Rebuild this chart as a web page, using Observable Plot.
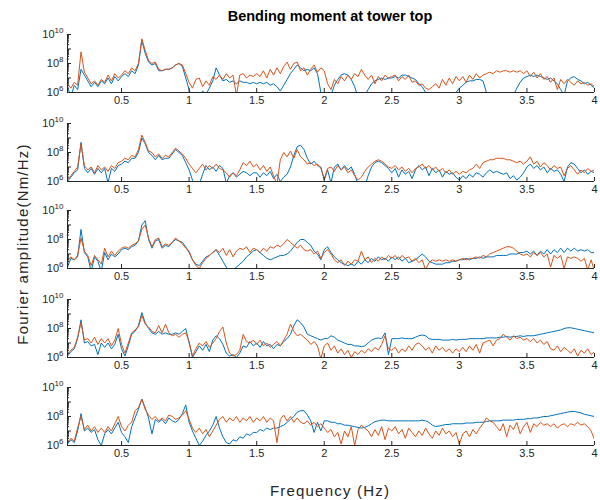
<!DOCTYPE html>
<html><head><meta charset="utf-8">
<script src="https://cdn.jsdelivr.net/npm/d3@7"></script>
<script src="https://cdn.jsdelivr.net/npm/@observablehq/plot@0.6"></script>
<style>
body{margin:0;background:#fff;}
#chart{position:relative;width:600px;height:500px;font-family:"Liberation Sans",Arial,Helvetica,sans-serif;color:#262626;overflow:hidden;background:#fff}
#title{position:absolute;top:8px;left:0;width:660px;text-align:center;font-weight:bold;font-size:14.5px;color:#000}
#ylab{position:absolute;left:22px;top:244px;transform:translate(-50%,-50%) rotate(-90deg);white-space:nowrap;font-size:15px;letter-spacing:1.2px;color:#262626}
#xlab{position:absolute;left:330px;top:490px;transform:translate(-50%,-50%);white-space:nowrap;font-size:15px;letter-spacing:1.2px;color:#262626}
.panel{position:absolute;left:0}
</style></head>
<body>
<div id="chart">
  <div id="title">Bending moment at tower top</div>
  <div id="ylab">Fourier amplitude(Nm/Hz)</div>
  <div id="xlab">Frequency (Hz)</div>
</div>
<script>
// Frequency grid (Hz)
const freqs = d3.range(157).map(i => Math.round((0.1 + 0.025 * i) * 1000) / 1000);
const xTicks = [0.5, 1, 1.5, 2, 2.5, 3, 3.5, 4];
const xTickLabels = ["0.5", "1", "1.5", "2", "2.5", "3", "3.5", "4"];
const yTicks = [1e6, 1e8, 1e10];
const yTickExponents = ["6", "8", "10"];
const xDomain = [0.1, 4];
const yDomain = [1e6, 1e10];

// log10 of Fourier amplitude (blue = series 1, orange = series 2)
const p1Blue = [6.4,5.7,6.5,6.2,7.6,7.2,6.8,6.4,6.7,6.4,6.8,6.6,7.0,6.6,7.1,6.8,
7.1,7.3,7.1,7.5,7.3,7.9,9.6,8.7,8.1,7.9,8.0,7.5,7.5,7.6,7.6,7.7,7.9,8.0,7.8,7.0,
6.2,5.6,5.5,5.8,6.1,5.9,6.3,6.8,7.7,7.2,6.8,6.9,6.7,6.8,6.6,6.8,6.7,6.7,6.6,6.7,
6.6,6.7,6.6,6.7,6.5,6.6,6.4,6.1,6.5,6.9,7.3,7.6,7.9,7.7,7.5,7.6,7.5,7.7,7.3,6.0,
5.5,5.4,5.8,6.5,6.9,7.2,7.3,7.2,6.9,6.4,5.7,5.5,5.8,6.2,6.6,6.8,6.9,7.0,6.9,7.0,
7.0,7.1,7.0,7.2,7.2,7.1,7.0,6.9,6.6,6.4,6.0,5.6,5.4,5.4,5.5,5.5,5.6,5.7,5.8,6.0,
6.3,6.5,6.7,6.8,6.8,6.9,6.9,6.8,6.0,5.4,5.3,5.3,5.3,5.4,5.4,5.6,5.8,6.3,6.7,7.0,
7.1,7.2,7.1,7.2,7.1,7.0,6.9,7.0,6.8,6.6,6.2,5.8,6.8,7.0,7.1,6.9,6.8,6.6,6.7,6.5,6.3];
const p1Orange = [6.6,6.3,6.7,6.5,8.8,7.4,7.0,6.6,6.8,6.5,6.9,6.7,7.2,6.8,7.3,7.0,
7.2,7.5,7.3,7.7,7.5,8.0,9.7,8.9,8.2,8.0,8.1,7.6,7.5,7.6,7.6,7.7,7.9,8.0,7.9,7.3,
6.7,6.3,6.9,7.0,6.4,6.8,6.5,7.1,6.9,7.2,6.9,7.3,7.0,7.2,5.8,7.2,7.3,7.0,7.2,7.1,
7.3,7.1,7.5,7.0,7.6,7.2,7.7,7.3,7.8,8.1,7.6,8.0,8.1,7.5,7.7,7.2,7.6,7.9,7.4,7.7,
7.5,6.6,6.2,6.9,6.6,7.1,6.8,7.2,6.9,7.3,7.1,7.6,7.2,6.9,7.2,6.6,7.1,6.8,7.2,7.0,
7.1,7.2,6.8,7.1,6.9,7.2,6.7,6.8,6.5,6.6,6.3,6.2,6.4,6.6,6.3,6.9,6.5,7.0,6.6,7.1,
6.8,7.1,6.7,7.2,6.9,7.3,7.0,7.2,7.3,7.4,7.3,7.5,7.4,7.5,7.5,7.4,7.5,7.4,7.5,7.3,
7.5,7.1,7.4,7.0,7.3,6.9,7.1,6.7,7.0,6.2,6.9,6.6,6.9,6.7,6.5,6.8,6.6,6.7,6.5,6.6,6.4];

const p2Blue = [6.0,6.3,6.6,6.8,8.7,6.9,6.6,6.9,6.5,6.9,6.6,6.9,5.9,6.9,6.7,7.1,
7.2,7.4,7.3,7.6,7.6,8.0,9.0,8.6,8.0,7.8,7.5,7.8,7.5,7.6,7.6,7.9,8.2,8.0,7.8,7.3,
6.8,6.1,5.6,5.8,6.5,7.1,6.8,7.0,6.7,7.1,6.9,5.9,6.4,6.6,6.3,6.5,6.7,6.6,6.4,6.6,
6.6,6.3,6.6,6.4,6.7,6.2,6.5,6.0,6.3,6.5,7.0,7.8,8.4,8.5,8.2,7.6,7.2,7.4,7.1,7.0,
6.1,6.8,5.9,7.0,7.2,6.8,7.1,6.8,7.0,6.5,5.8,5.5,5.7,6.4,7.0,7.3,7.4,7.3,7.1,6.9,
6.6,6.9,6.3,6.8,6.5,6.7,6.2,6.8,7.1,6.8,7.0,6.4,6.9,6.6,6.8,6.3,6.7,6.5,6.6,6.3,
6.1,6.4,6.2,6.5,6.3,6.6,6.5,6.3,6.6,6.8,6.6,6.7,6.6,6.5,6.6,6.2,6.4,6.1,6.3,6.6,
7.0,7.2,6.9,7.1,6.8,7.0,6.6,6.9,6.7,6.8,6.5,6.0,7.0,7.3,7.2,6.9,6.6,6.8,6.5,6.7,6.6];
const p2Orange = [6.1,6.4,6.7,7.0,8.6,7.1,6.8,7.0,6.6,7.1,6.8,7.0,6.7,7.1,6.9,7.3,
7.4,7.6,7.5,7.8,7.7,8.2,9.2,8.7,8.1,8.0,7.7,7.9,7.6,7.8,7.7,8.0,8.3,8.1,7.9,7.6,
7.2,6.9,6.6,6.9,7.2,6.8,7.1,6.9,7.2,6.9,6.8,6.6,6.3,6.6,6.4,6.8,7.3,7.1,7.4,7.0,
7.2,6.8,7.1,6.7,7.0,6.4,5.8,7.5,8.0,7.7,8.1,7.6,8.2,7.7,7.5,7.2,7.3,7.1,7.2,6.9,
6.2,6.9,7.0,6.7,7.1,6.8,7.0,6.6,6.8,6.4,6.1,6.3,6.7,7.0,7.2,7.4,7.5,7.4,7.2,7.0,
6.9,7.1,6.8,7.0,6.7,6.9,6.6,6.9,7.0,7.2,6.9,7.1,6.8,7.0,6.7,6.9,6.6,6.8,6.5,6.7,
6.5,6.7,6.6,6.8,6.9,7.2,6.9,7.3,7.4,7.5,7.5,7.6,7.6,7.6,7.5,7.5,7.4,7.3,7.4,7.2,
7.4,7.7,7.2,7.4,7.0,7.3,7.1,6.8,7.1,6.9,7.0,6.4,6.9,7.1,6.8,6.5,6.8,6.6,6.9,6.7,6.8];

const p3Blue = [6.1,6.7,6.6,6.8,8.7,7.1,6.8,5.8,6.8,6.5,5.8,7.1,6.6,7.0,6.8,7.0,
7.3,7.4,7.3,7.5,7.6,7.9,9.0,9.3,8.0,7.4,7.9,8.0,7.4,7.6,7.5,7.8,8.0,7.9,7.8,7.5,
7.1,6.6,6.3,6.2,6.5,6.8,6.9,7.1,7.3,6.9,6.5,6.1,5.8,5.9,6.1,6.3,6.5,6.8,7.0,7.2,
7.3,7.1,6.9,6.7,6.6,6.7,6.8,6.9,6.9,7.0,7.2,7.5,7.8,8.0,8.0,7.8,7.6,7.2,7.0,6.6,
7.3,7.5,7.1,6.8,6.6,6.4,6.3,6.2,6.3,6.2,6.5,6.3,6.6,6.4,6.7,6.5,6.8,6.6,6.7,6.5,
6.8,6.6,6.8,6.5,6.7,6.4,6.5,6.6,6.8,7.0,6.8,6.5,6.4,6.3,6.3,6.3,6.4,6.4,6.5,6.5,
6.6,6.6,6.7,6.6,6.7,6.7,6.8,6.7,6.8,6.8,6.8,6.9,6.9,6.9,6.9,7.0,7.0,7.0,7.1,7.1,
7.2,7.0,7.2,6.9,7.2,7.0,7.3,7.0,7.3,7.1,7.4,7.1,7.4,7.2,7.4,7.2,7.3,7.2,7.3,7.1,7.1];
const p3Orange = [6.5,6.8,6.6,6.9,8.1,7.2,6.9,6.2,6.9,6.6,6.3,7.4,6.8,7.2,6.9,7.2,
7.4,7.5,7.4,7.6,7.7,7.9,8.7,9.0,8.1,7.5,8.0,8.1,7.5,7.7,7.6,7.8,8.1,7.9,7.7,7.4,
7.2,6.6,6.2,6.0,6.4,6.7,6.9,7.1,7.3,7.1,7.4,6.9,7.3,6.8,7.2,7.4,7.3,7.5,7.1,7.4,
7.3,7.1,7.4,7.2,7.5,7.4,7.6,7.5,7.7,8.0,7.8,7.6,7.4,7.6,7.3,7.2,7.3,7.0,7.2,6.7,
7.1,7.3,7.0,6.6,6.4,6.6,6.2,6.5,6.3,6.6,6.5,7.2,6.6,6.8,6.4,6.7,6.5,6.8,6.6,6.9,
6.7,6.9,6.6,6.9,6.7,6.8,6.5,6.7,6.4,6.6,5.9,6.4,6.6,6.5,6.6,6.5,6.6,6.5,6.6,6.5,
6.6,6.7,6.6,6.7,6.7,6.8,6.7,6.9,6.8,7.0,7.1,7.2,7.3,7.4,7.5,7.5,7.4,7.2,7.0,6.9,
7.0,6.8,7.1,6.9,7.1,6.8,7.0,6.1,6.9,6.7,6.9,6.0,6.8,6.7,6.8,6.7,6.5,6.7,5.9,6.6,5.8];

const p4Blue = [6.1,6.4,6.6,7.3,8.6,7.0,7.1,6.8,6.9,6.2,7.0,6.7,7.0,6.6,6.9,7.6,
6.6,6.1,6.8,7.6,7.8,8.2,9.1,8.4,8.0,7.7,7.6,7.8,7.6,7.7,7.6,7.6,7.7,7.6,7.8,8.0,
7.0,6.0,6.4,6.8,6.5,6.9,6.4,7.2,7.5,7.3,6.9,6.3,6.1,6.2,6.0,6.3,6.8,6.7,7.1,6.8,
7.0,6.7,7.1,6.8,6.9,6.6,6.9,6.8,7.1,7.3,7.6,8.2,8.6,8.4,8.1,7.6,7.5,7.4,7.3,7.2,
7.3,7.3,7.5,7.4,7.2,7.1,7.0,6.9,6.9,6.8,6.8,6.75,6.8,7.0,7.2,7.3,7.35,7.3,7.7,6.2,
7.3,7.3,7.3,7.35,7.3,7.3,7.3,7.4,7.5,7.55,7.5,7.3,7.25,7.25,7.25,7.2,7.2,7.2,7.25,7.2,
7.25,7.25,7.25,7.3,7.3,7.3,7.3,7.3,7.35,7.35,7.35,7.35,7.4,7.4,7.45,7.4,7.45,7.45,7.5,7.45,
7.5,7.5,7.5,7.55,7.6,7.65,7.7,7.75,7.8,7.85,7.9,8.0,8.05,8.05,8.0,7.95,7.9,7.85,7.8,7.75,7.7];
const p4Orange = [6.2,6.5,6.7,7.4,8.4,7.2,7.3,7.0,7.4,6.9,7.3,7.0,7.3,6.8,7.2,8.0,
6.9,6.3,7.0,7.7,7.9,8.1,8.9,8.3,8.1,7.8,7.7,8.2,7.7,8.3,7.7,7.5,7.6,7.4,7.6,7.7,
7.1,6.1,6.6,7.0,6.8,7.1,6.7,7.0,7.3,7.8,8.1,7.0,6.3,6.1,6.2,6.5,7.6,7.1,7.0,7.2,
6.9,7.2,6.8,7.0,6.7,6.9,7.1,6.8,7.2,7.6,8.3,7.8,7.5,7.6,7.4,7.2,6.9,7.1,6.8,5.9,
6.8,7.0,6.5,6.8,6.3,6.6,6.2,6.5,6.0,6.4,6.2,6.5,6.3,6.6,6.4,6.7,6.5,6.9,7.5,6.6,
6.5,6.7,6.3,6.6,6.4,6.8,6.5,6.9,7.0,6.8,6.5,6.7,6.3,6.8,6.5,6.7,6.4,6.6,6.3,6.6,
6.4,6.7,6.4,6.8,6.5,6.9,6.3,7.0,7.1,7.2,6.8,7.2,7.3,7.6,7.4,7.2,7.5,7.3,7.4,7.2,
7.3,7.1,7.3,7.0,7.2,6.9,7.1,6.6,6.5,6.8,6.4,6.7,6.5,6.3,6.6,6.1,6.5,6.3,6.6,6.2,6.4];

const p5Blue = [6.1,6.4,6.2,7.0,8.2,7.0,7.2,6.9,7.1,6.4,6.0,6.8,7.1,6.8,7.2,7.6,
6.9,6.6,6.2,7.3,7.9,8.5,9.2,8.6,7.9,6.8,7.8,7.6,7.8,7.5,7.9,7.7,7.6,7.8,8.2,8.8,
7.6,7.0,6.5,6.0,6.3,6.7,7.0,7.4,8.0,7.2,6.6,6.2,6.1,6.4,6.3,6.6,6.5,6.8,6.7,6.9,
6.9,7.1,7.0,7.2,7.1,7.2,7.2,7.3,7.4,7.6,7.8,8.0,8.3,8.4,8.4,8.1,7.7,6.9,7.6,7.0,
7.7,7.7,7.6,7.6,7.5,7.5,7.4,7.4,7.35,7.3,7.25,7.2,7.25,7.35,7.5,7.65,7.7,7.75,7.75,7.7,
7.7,7.7,7.7,7.7,7.7,7.7,7.7,7.7,7.7,7.75,7.7,7.6,7.4,7.3,7.35,7.4,7.45,7.45,7.5,7.5,
7.5,7.5,7.55,7.55,7.55,7.6,7.6,7.6,7.65,7.7,7.7,7.7,7.7,7.75,7.75,7.75,7.75,7.8,7.8,7.8,
7.85,7.85,7.9,7.9,7.95,8.0,8.0,8.05,8.1,8.15,8.2,8.25,8.3,8.35,8.35,8.3,8.25,8.15,8.1,8.05,8.0];
const p5Orange = [6.2,6.5,6.3,7.2,8.0,7.1,7.4,7.0,7.3,6.9,7.2,6.9,7.3,7.0,7.5,8.0,
7.3,7.0,7.4,7.6,8.4,8.6,9.2,8.5,8.1,7.8,8.0,7.7,7.9,7.7,8.1,8.0,7.8,7.9,8.1,8.4,
7.8,7.2,6.9,7.2,6.8,7.1,6.6,7.0,7.4,7.8,8.0,7.6,7.9,7.7,8.0,7.6,7.9,7.7,8.0,7.6,
7.9,7.7,8.0,7.6,7.9,7.7,6.2,7.8,8.1,7.7,8.0,7.6,7.9,7.6,7.5,7.7,7.4,7.6,7.3,7.5,
7.2,6.9,7.1,6.6,6.9,6.1,7.0,6.6,7.3,6.0,7.1,7.4,7.2,7.0,6.6,7.1,6.7,7.3,6.4,7.2,
7.0,7.3,6.8,7.1,6.5,7.2,6.9,6.6,7.0,6.7,7.2,6.8,6.5,7.0,6.7,7.2,6.8,7.0,6.6,6.9,
6.1,6.8,7.0,6.6,7.1,6.8,7.2,7.5,7.9,7.7,7.6,7.3,7.0,7.5,6.6,7.4,7.1,7.6,6.8,7.3,
7.6,6.9,7.5,7.3,7.6,7.4,7.5,7.3,7.5,7.2,7.4,7.5,7.3,7.5,7.4,7.6,7.4,7.5,7.3,7.0,6.4];

const BLUE = "#0072BD", ORANGE = "#D95319", AXIS = "#262626";
const panels = [[p1Blue, p1Orange], [p2Blue, p2Orange], [p3Blue, p3Orange], [p4Blue, p4Orange], [p5Blue, p5Orange]];
const panelTops = [34, 123, 210, 299, 387];
const yMinor = [];
for (let e = 6; e < 10; e++) for (let m = 2; m <= 9; m++) yMinor.push(m * 10 ** e);
const yMajor = [1e6, 1e7, 1e8, 1e9, 1e10];

const chart = document.getElementById("chart");
const W = 600, H = 88, mL = 67, mR = 6, mT = 4, mB = 26;
const frameW = W - mL - mR, frameH = H - mT - mB;

panels.forEach(([b, o], k) => {
  const n = Math.min(freqs.length, b.length, o.length);
  const rows = freqs.slice(0, n).map((f, i) => ({f, b: 10 ** b[i], o: 10 ** o[i]}));
  const svg = Plot.plot({
    width: W, height: H, marginLeft: mL, marginRight: mR, marginTop: mT, marginBottom: mB,
    style: {fontSize: "11px", fontFamily: "'Liberation Sans', Arial, Helvetica, sans-serif", color: AXIS, background: "transparent", overflow: "visible"},
    x: {domain: xDomain},
    y: {type: "log", domain: yDomain},
    marks: [
      Plot.lineY(rows, {x: "f", y: "b", stroke: BLUE, strokeWidth: 1, clip: true}),
      Plot.lineY(rows, {x: "f", y: "o", stroke: ORANGE, strokeWidth: 1, clip: true}),
      Plot.ruleX([xDomain[0]], {stroke: AXIS, strokeWidth: 1}),
      Plot.ruleY([yDomain[0]], {stroke: AXIS, strokeWidth: 1}),
      Plot.tickX(xTicks, {x: d => d, insetTop: frameH - 4, stroke: AXIS}),
      Plot.tickY(yMajor, {y: d => d, insetRight: frameW - 4, stroke: AXIS}),
      Plot.tickY(yMinor, {y: d => d, insetRight: frameW - 2, stroke: AXIS}),
      Plot.axisX({ticks: xTicks, tickSize: 0, tickPadding: 4, tickFormat: d => xTickLabels[xTicks.indexOf(d)], label: null}),
      Plot.axisY({ticks: yTicks, tickSize: 0, tickPadding: 4, tickFormat: d => "10^" + yTickExponents[yTicks.indexOf(d)], label: null})
    ]
  });
  svg.classList.add("panel");
  svg.style.position = "absolute";
  svg.style.left = "0px";
  svg.style.top = (panelTops[k] - mT) + "px";
  // superscript exponents on y tick labels
  svg.querySelectorAll('g[aria-label="y-axis tick label"] text').forEach(t => {
    const s = t.textContent;
    if (!s.includes("^")) return;
    const [base, exp] = s.split("^");
    t.textContent = "";
    const ns = "http://www.w3.org/2000/svg";
    const t1 = document.createElementNS(ns, "tspan"); t1.textContent = base;
    const t2 = document.createElementNS(ns, "tspan"); t2.textContent = exp;
    t2.setAttribute("dy", "-5"); t2.setAttribute("font-size", "8px");
    t.appendChild(t1); t.appendChild(t2);
  });
  chart.appendChild(svg);
});
</script>
</body></html>
